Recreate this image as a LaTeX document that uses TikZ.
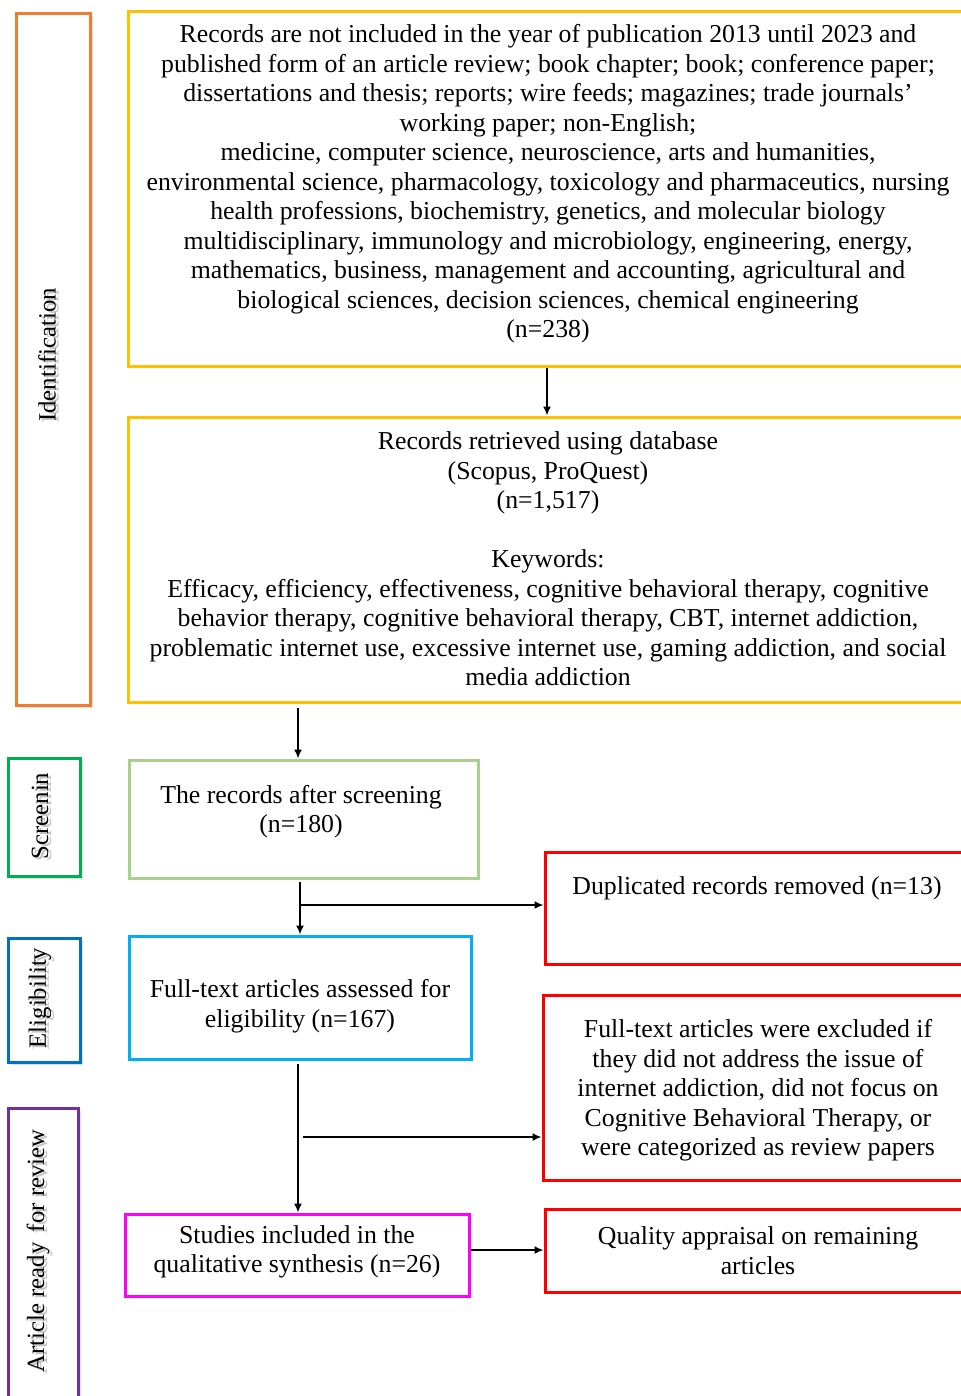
\documentclass[tikz,border=0pt]{standalone}
\usepackage{fontspec}
\setmainfont{Liberation Serif}
\usetikzlibrary{arrows.meta,shadows}
\definecolor{cOrange}{HTML}{ED7D31}
\definecolor{cYellow}{HTML}{FFC000}
\definecolor{cGreen}{HTML}{00B050}
\definecolor{cLGreen}{HTML}{A9D18E}
\definecolor{cBlue}{HTML}{0070C0}
\definecolor{cSky}{HTML}{00B0F0}
\definecolor{cPurple}{HTML}{7030A0}
\definecolor{cMagenta}{HTML}{FF00FF}
\definecolor{cRed}{HTML}{FF0000}
\newcommand{\fs}{\fontsize{12.9}{14.75}\selectfont}
\newcommand{\fss}{\fontsize{12.4}{14.75}\selectfont}
\tikzset{
  boxshape/.style={draw, line width=1.5pt, inner sep=0pt, rectangle},
  sidebox/.style={boxshape, fill=white, drop shadow={opacity=0.25, shadow xshift=1.5pt, shadow yshift=-1.5pt}},
  txt/.style={align=center, inner sep=0pt, font=\fs},
  sidetxt/.style={inner sep=0pt, font=\fss, rotate=90},
  sideshadow/.style={inner sep=0pt, font=\fss, rotate=90, text=black!45, opacity=0.5},
  arr/.style={line width=0.8pt, -{Latex[length=4.5pt,width=4pt]}},
  ln/.style={line width=0.8pt}
}
\begin{document}
\begin{tikzpicture}[x=0.5pt,y=-0.5pt]
\useasboundingbox (0,0) rectangle (961,1396);
\fill[white] (0,0) rectangle (961,1396);

% side boxes
\node[sidebox, draw=cOrange, minimum width=37pt, minimum height=345.5pt] (ident) at (53,359.5) {};
\node[sidebox, draw=cGreen, minimum width=36pt, minimum height=59pt] (screen) at (44,817) {};
\node[sidebox, draw=cBlue, minimum width=36pt, minimum height=62pt] (elig) at (44,1000) {};
\node[sidebox, draw=cPurple, minimum width=35pt, minimum height=151pt] (artbox) at (43,1259) {};

\node[sideshadow] (identsh) at (50,357) {Identification};
\node[sidetxt] (identt) at (47,355) {Identification};
\node[sideshadow] (screensh) at (43,818) {Screenin};
\node[sidetxt] (screent) at (40,816) {Screenin};
\node[sideshadow] (eligsh) at (43,1000) {Eligibility};
\node[sidetxt] (eligt) at (40,998) {Eligibility};
\node[sideshadow] (artsh) at (41,1253) {Article ready\, for review};
\node[sidetxt] (artt) at (38,1251) {Article ready\, for review};

% main boxes
\node[boxshape, draw=cYellow, minimum width=420pt, minimum height=177pt] (box1) at (548,189) {};
\node[txt] (box1t) at (548,184) {Records are not included in the year of publication 2013 until 2023 and\\
published form of an article review; book chapter; book; conference paper;\\
dissertations and thesis; reports; wire feeds; magazines; trade journals’\\
working paper; non-English;\\
medicine, computer science, neuroscience, arts and humanities,\\
environmental science, pharmacology, toxicology and pharmaceutics, nursing\\
health professions, biochemistry, genetics, and molecular biology\\
multidisciplinary, immunology and microbiology, engineering, energy,\\
mathematics, business, management and accounting, agricultural and\\
biological sciences, decision sciences, chemical engineering\\
(n=238)};

\node[boxshape, draw=cYellow, minimum width=420pt, minimum height=142.5pt] (box2) at (548,559.5) {};
\node[txt] (box2t) at (548,559) {Records retrieved using database\\
(Scopus, ProQuest)\\
(n=1,517)\\[14.75pt]
Keywords:\\
Efficacy, efficiency, effectiveness, cognitive behavioral therapy, cognitive\\
behavior therapy, cognitive behavioral therapy, CBT, internet addiction,\\
problematic internet use, excessive internet use, gaming addiction, and social\\
media addiction};

\node[boxshape, draw=cLGreen, minimum width=174.5pt, minimum height=59pt] (green) at (303.5,819) {};
\node[txt] (greent) at (301,811.5) {The records after screening\\(n=180)};

\node[boxshape, draw=cRed, minimum width=212pt, minimum height=56pt] (dup) at (757,908) {};
\node[txt] (dupt) at (757,888) {Duplicated records removed (n=13)};

\node[boxshape, draw=cSky, minimum width=171pt, minimum height=61.5pt] (blue) at (300,997.5) {};
\node[txt] (bluet) at (300,1006) {Full-text articles assessed for\\eligibility (n=167)};

\node[boxshape, draw=cRed, minimum width=215pt, minimum height=92.5pt] (excl) at (758,1087.5) {};
\node[txt] (exclt) at (758,1090.5) {Full-text articles were excluded if\\
they did not address the issue of\\
internet addiction, did not focus on\\
Cognitive Behavioral Therapy, or\\
were categorized as review papers};

\node[boxshape, draw=cMagenta, minimum width=172pt, minimum height=41pt] (mag) at (297,1255) {};
\node[txt] (magt) at (297,1252) {Studies included in the\\qualitative synthesis (n=26)};

\node[boxshape, draw=cRed, minimum width=213pt, minimum height=41.5pt] (qual) at (758,1250.5) {};
\node[txt] (qualt) at (758,1250.5) {Quality appraisal on remaining\\articles};

% connectors
\coordinate (x1) at (547,0);
\coordinate (x2) at (298,0);
\coordinate (x3) at (300,0);
\coordinate (y3) at (0,882);
\coordinate (yb1) at (0,905);
\coordinate (yb2) at (0,1137);
\coordinate (xb2) at (303,0);
\coordinate (yq) at (0,1250);

\draw[arr] (box1.south -| x1) -- (box2.north -| x1);
\draw[arr] (box2.south -| x2) ++(0,4) -- (green.north -| x2);
\draw[arr] (x3 |- y3) -- (blue.north -| x3);
\draw[arr] (x3 |- yb1) -- (dup.west |- yb1);
\draw[arr] (blue.south -| x2) ++(0,3) -- (mag.north -| x2);
\draw[arr] (xb2 |- yb2) -- (excl.west |- yb2);
\draw[arr] (mag.east |- yq) -- (qual.west |- yq);
\end{tikzpicture}
\end{document}
